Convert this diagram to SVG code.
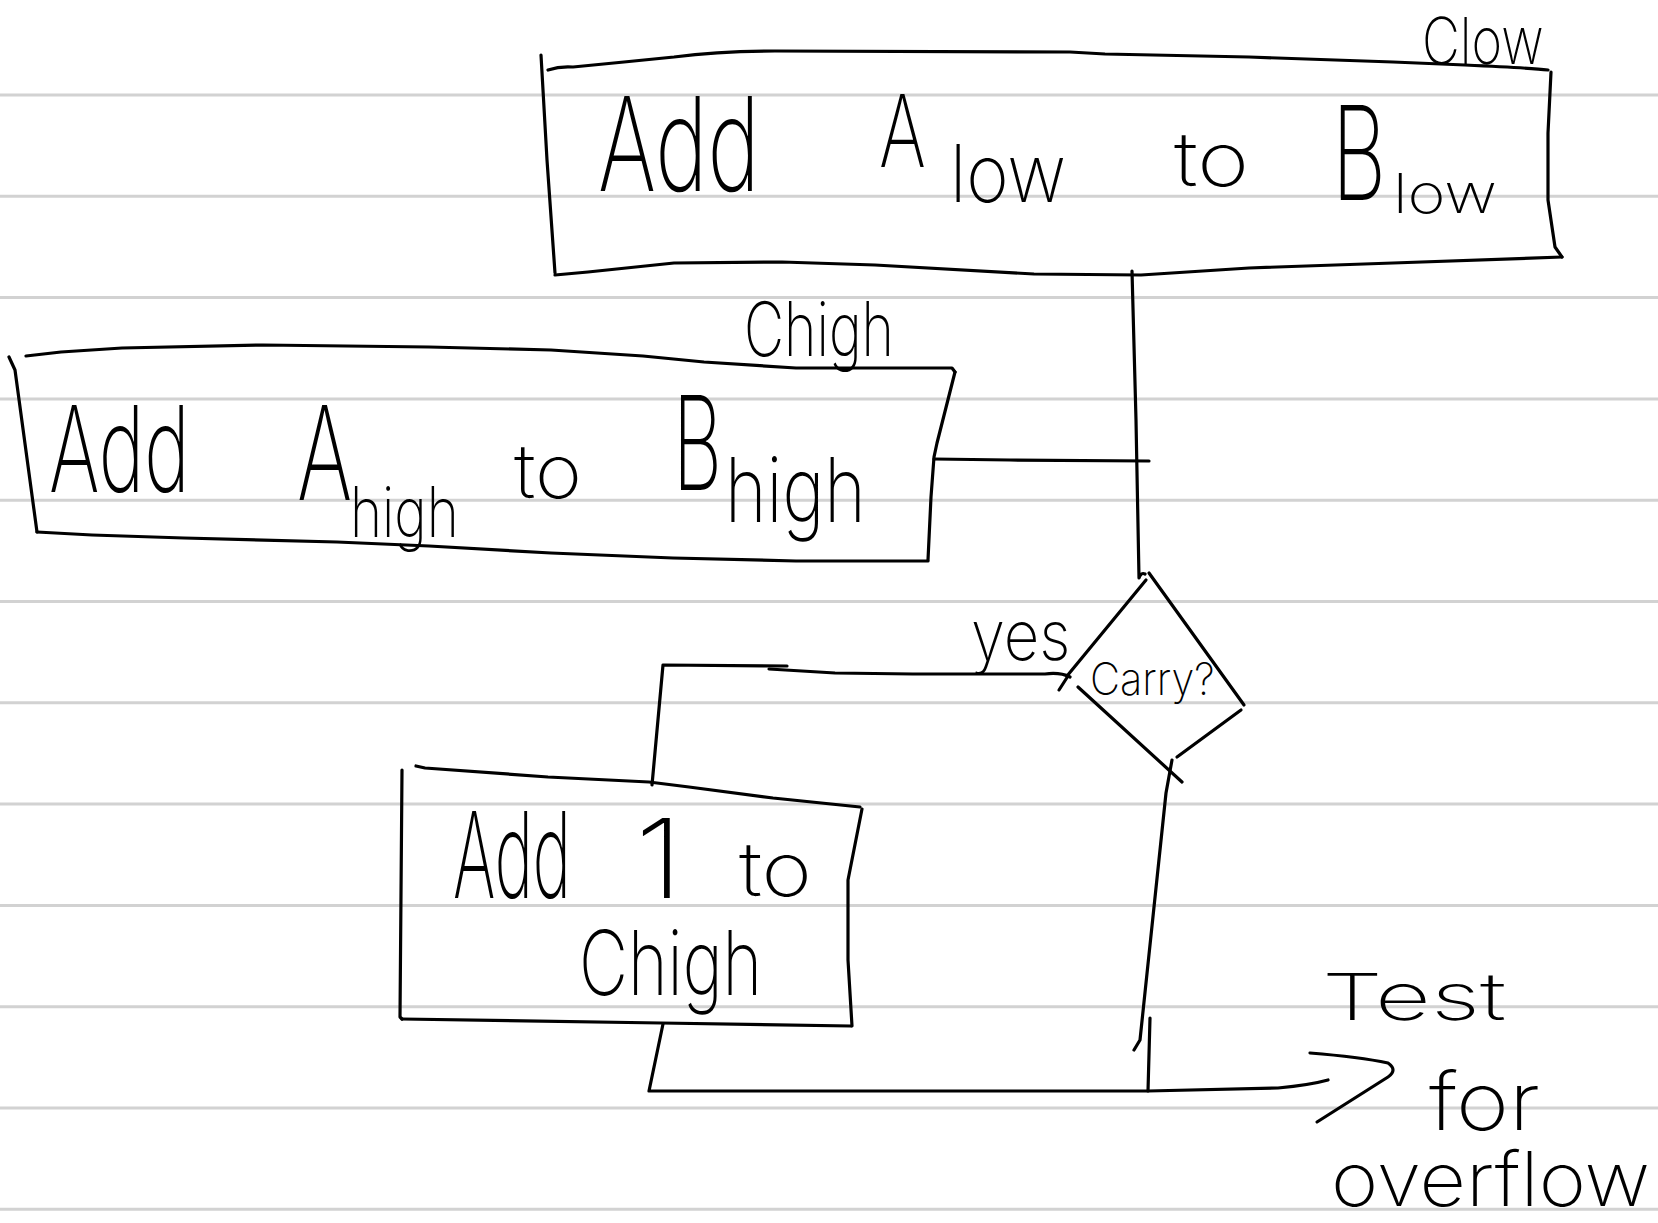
<svg xmlns="http://www.w3.org/2000/svg" width="1658" height="1223" viewBox="0 0 1658 1223">
<style>
.rule{stroke:#d2d2d2;stroke-width:3;fill:none}
.ink{stroke:#000;stroke-width:3.2;fill:none;stroke-linecap:round;stroke-linejoin:round}
.hw{font-family:Inter,Roboto,"Liberation Sans",sans-serif;font-weight:200;fill:#000}
</style>
<rect width="1658" height="1223" fill="#fff"/>
<g id="paper">
<line class="rule" x1="0" y1="95" x2="1658" y2="95"/>
<line class="rule" x1="0" y1="196.3" x2="1658" y2="196.3"/>
<line class="rule" x1="0" y1="297.6" x2="1658" y2="297.6"/>
<line class="rule" x1="0" y1="398.9" x2="1658" y2="398.9"/>
<line class="rule" x1="0" y1="500.2" x2="1658" y2="500.2"/>
<line class="rule" x1="0" y1="601.5" x2="1658" y2="601.5"/>
<line class="rule" x1="0" y1="702.8" x2="1658" y2="702.8"/>
<line class="rule" x1="0" y1="804.1" x2="1658" y2="804.1"/>
<line class="rule" x1="0" y1="905.4" x2="1658" y2="905.4"/>
<line class="rule" x1="0" y1="1006.7" x2="1658" y2="1006.7"/>
<line class="rule" x1="0" y1="1108" x2="1658" y2="1108"/>
<line class="rule" x1="0" y1="1209.3" x2="1658" y2="1209.3"/>
</g>
<g id="connectors">
<path class="ink" d="M1132,271 L1136,420 L1139,578 Q1141,572 1145,574"/>
<path class="ink" d="M934,459 L1010,460 L1149,461"/>
<path class="ink" d="M1070,677 Q1060,672 1045,674 L913,674 L835,673 L769,669"/>
<path class="ink" d="M787,666 L663,665 L652,785"/>
<path class="ink" d="M1068,676 L1059,690"/>
<path class="ink" d="M1172,760 L1166,793 L1140,1040 L1134,1050"/>
<path class="ink" d="M663,1024 L649,1091 L1148,1091 L1278,1088 Q1310,1085 1328,1080"/>
<path class="ink" d="M1150,1018 L1148,1091"/>
<path class="ink" d="M1310,1053 Q1360,1057 1388,1063 Q1398,1070 1388,1077 L1317,1122"/>
</g>
<g id="box-add-alow">
<path class="ink" d="M541,55 L547,160 L555,273"/>
<path class="ink" d="M548,70 Q560,66 573,67 L624,62 L674,57 Q720,51 775,51 L1070,52 L1105,54 L1249,57 L1393,62 L1465,65 Q1530,68 1548,70"/>
<path class="ink" d="M1551,72 L1548,133 L1548,200 L1555,247 L1562,257"/>
<path class="ink" d="M1562,257 L1393,263 L1249,268 L1141,275 L1034,274 L875,265 L782,262 L674,263 L588,272 L555,275"/>
<text class="hw" transform="translate(598,191) scale(0.66,1)" font-size="130" textLength="245" lengthAdjust="spacingAndGlyphs">Add</text>
<text class="hw" transform="translate(879,167) scale(0.67,1)" font-size="100" textLength="70" lengthAdjust="spacingAndGlyphs">A</text>
<text class="hw" transform="translate(950,202) scale(0.88,1)" font-size="80" textLength="132" lengthAdjust="spacingAndGlyphs">low</text>
<text class="hw" x="1174" y="186" font-size="75" textLength="75" lengthAdjust="spacingAndGlyphs">to</text>
<text class="hw" transform="translate(1332,200) scale(0.63,1)" font-size="130" textLength="86" lengthAdjust="spacingAndGlyphs">B</text>
<text class="hw" x="1393" y="213" font-size="55" textLength="104" lengthAdjust="spacingAndGlyphs">low</text>
</g>
<g id="label-clow">
<text class="hw" transform="translate(1422,64) scale(0.79,1)" font-size="65" textLength="154" lengthAdjust="spacingAndGlyphs">Clow</text>
</g>
<g id="box-add-ahigh">
<path class="ink" d="M9,357 L15,370 L37,532"/>
<path class="ink" d="M26,356 L61,352 L122,348 L263,345 L429,347 L551,350 L643,356 L704,362 L796,368 L952,368 L955,372"/>
<path class="ink" d="M955,372 L937,443 L934,457 L931,497 L928,560"/>
<path class="ink" d="M928,561 L796,561 L673,558 L551,553 L429,546 L337,542 L184,538 L92,535 L37,532"/>
<text class="hw" transform="translate(49,492) scale(0.62,1)" font-size="120" textLength="227" lengthAdjust="spacingAndGlyphs">Add</text>
<text class="hw" transform="translate(297,500) scale(0.6,1)" font-size="130" textLength="92" lengthAdjust="spacingAndGlyphs">A</text>
<text class="hw" transform="translate(350,537) scale(0.8,1)" font-size="70" textLength="136" lengthAdjust="spacingAndGlyphs">high</text>
<text class="hw" x="514" y="498" font-size="75" textLength="68" lengthAdjust="spacingAndGlyphs">to</text>
<text class="hw" transform="translate(673,490) scale(0.57,1)" font-size="130" textLength="86" lengthAdjust="spacingAndGlyphs">B</text>
<text class="hw" transform="translate(725,522) scale(0.8,1)" font-size="90" textLength="176" lengthAdjust="spacingAndGlyphs">high</text>
</g>
<g id="label-chigh">
<text class="hw" transform="translate(744,356) scale(0.75,1)" font-size="75" textLength="200" lengthAdjust="spacingAndGlyphs">Chigh</text>
</g>
<g id="decision-carry">
<path class="ink" d="M1146,580 L1067,676"/>
<path class="ink" d="M1078,687 L1182,782"/>
<path class="ink" d="M1149,573 L1244,705"/>
<path class="ink" d="M1241,710 L1177,757"/>
<text class="hw" transform="translate(1090,695) scale(0.93,1)" font-size="45" textLength="134" lengthAdjust="spacingAndGlyphs">Carry?</text>
</g>
<g id="label-yes">
<text class="hw" transform="translate(971,660) scale(0.88,1)" font-size="70" textLength="113" lengthAdjust="spacingAndGlyphs">yes</text>
</g>
<g id="box-add-1">
<path class="ink" d="M416,766 L425,768 L548,777 L649,782 L689,787 L773,798 L860,807"/>
<path class="ink" d="M402,770 L400,1017 L402,1019"/>
<path class="ink" d="M402,1019 L661,1023 L851,1026"/>
<path class="ink" d="M862,809 L848,880 L848,960 L852,1026"/>
<text class="hw" transform="translate(453,898) scale(0.52,1)" font-size="120" textLength="227" lengthAdjust="spacingAndGlyphs">Add</text>
<text class="hw" x="635" y="898" font-size="110" textLength="48" lengthAdjust="spacingAndGlyphs">1</text>
<text class="hw" x="739" y="896" font-size="75" textLength="73" lengthAdjust="spacingAndGlyphs">to</text>
<text class="hw" transform="translate(579,995) scale(0.76,1)" font-size="90" textLength="241" lengthAdjust="spacingAndGlyphs">Chigh</text>
</g>
<g id="label-test">
<text class="hw" x="1322" y="1020" font-size="65" textLength="184" lengthAdjust="spacingAndGlyphs">Test</text>
<text class="hw" x="1429" y="1130" font-size="80" textLength="111" lengthAdjust="spacingAndGlyphs">for</text>
<text class="hw" x="1331" y="1206" font-size="75" textLength="319" lengthAdjust="spacingAndGlyphs">overflow</text>
</g>
</svg>
